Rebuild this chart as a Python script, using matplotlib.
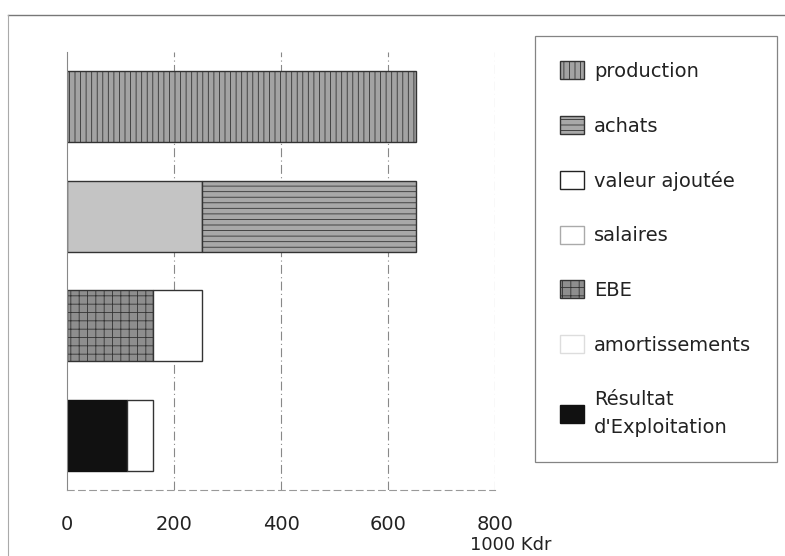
import matplotlib
matplotlib.use("Agg")
import matplotlib.pyplot as plt
from matplotlib.patches import Patch
from matplotlib.lines import Line2D

# ---- data (1000 Kdr) ----
rows = ["production", "valeur ajoutée + achats", "EBE + salaires", "résultat + amortissements"]
production = [652]
valeur_ajoutee = [252]
achats = [400]
ebe = [161]
salaires = [91]
resultat = [112]
amortissements = [48]
xticks = [0, 200, 400, 600, 800]
xticklabels = ["0", "200", "400", "600", "800"]
unit_label = "1000 Kdr"
legend_labels = ["production", "achats", "valeur ajoutée", "salaires", "EBE",
                 "amortissements", "Résultat\nd'Exploitation"]

plt.rcParams['font.family'] = ['DejaVu Sans']
plt.rcParams['hatch.linewidth'] = 0.6

fig = plt.figure(figsize=(7.85, 5.56), dpi=100)
ax = fig.add_axes([67/785, 1-490/556, (495-67)/785, (490-52)/556])

ypos = {r: 3 - i for i, r in enumerate(rows)}
h = 0.65
ec = '#333333'

# row 1
ax.barh(ypos[rows[0]], production, height=h, color='#a3a3a3', edgecolor=ec, hatch='|||', linewidth=1.0)
# row 2
ax.barh(ypos[rows[1]], valeur_ajoutee, height=h, color='#c4c4c4', edgecolor=ec, linewidth=1.0)
ax.barh(ypos[rows[1]], achats, left=valeur_ajoutee, height=h, color='#a8a8a8', edgecolor=ec, hatch='---', linewidth=1.0)
# row 3
ax.barh(ypos[rows[2]], ebe, height=h, color='#8e8e8e', edgecolor=ec, hatch='++', linewidth=1.0)
ax.barh(ypos[rows[2]], salaires, left=ebe, height=h, color='white', edgecolor=ec, linewidth=1.0)
# row 4
ax.barh(ypos[rows[3]], resultat, height=h, color='#111111', edgecolor='#111111', linewidth=1.0)
ax.barh(ypos[rows[3]], amortissements, left=resultat, height=h, color='white', edgecolor=ec, linewidth=1.0)

ax.set_xlim(0, 800)
ax.set_ylim(-0.5, 3.5)
ax.set_yticks([])
ax.set_xticks(xticks)
ax.set_xticklabels(xticklabels, fontsize=14, color='#222222')
ax.tick_params(axis='x', length=0, pad=18)

for s in ['top', 'right']:
    ax.spines[s].set_visible(False)
ax.spines['left'].set_color('#888888')
ax.spines['left'].set_linewidth(0.8)
ax.spines['bottom'].set_color('#999999')
ax.spines['bottom'].set_linestyle((0, (6, 4)))
ax.spines['bottom'].set_linewidth(0.8)

for x in xticks[1:]:
    ax.axvline(x, color='#888888', linewidth=0.8, linestyle=(0, (8, 3, 1, 3)), zorder=0)

ax.text(470/785, 1-536/556, unit_label, transform=fig.transFigure, ha='left', va='top',
        fontsize=13, color='#222222')

handles = [
    Patch(facecolor='#a3a3a3', edgecolor=ec, hatch='|||'),
    Patch(facecolor='#a8a8a8', edgecolor=ec, hatch='---'),
    Patch(facecolor='white', edgecolor='#222222'),
    Patch(facecolor='white', edgecolor='#aaaaaa'),
    Patch(facecolor='#8e8e8e', edgecolor=ec, hatch='++'),
    Patch(facecolor='white', edgecolor='#dddddd'),
    Patch(facecolor='#111111', edgecolor='#111111'),
]
leg = fig.legend(handles, legend_labels, loc='upper left',
                 bbox_to_anchor=(535/785, 1-36/556), bbox_transform=fig.transFigure,
                 fontsize=14, frameon=True, fancybox=False, edgecolor='#666666',
                 borderpad=1.3, labelspacing=1.8, handlelength=1.2, handleheight=1.05,
                 handletextpad=0.55, borderaxespad=0)
leg.get_frame().set_linewidth(0.9)
for t in leg.get_texts():
    t.set_color('#222222')
leg.get_texts()[-1].set_linespacing(1.6)

# scanned page frame
fig.add_artist(Line2D([8/785, 1], [1-15/556, 1-15/556], transform=fig.transFigure, color='#777777', lw=1.0))
fig.add_artist(Line2D([8/785, 8/785], [0, 1-15/556], transform=fig.transFigure, color='#aaaaaa', lw=0.8))

fig.savefig("out.png", dpi=100)
